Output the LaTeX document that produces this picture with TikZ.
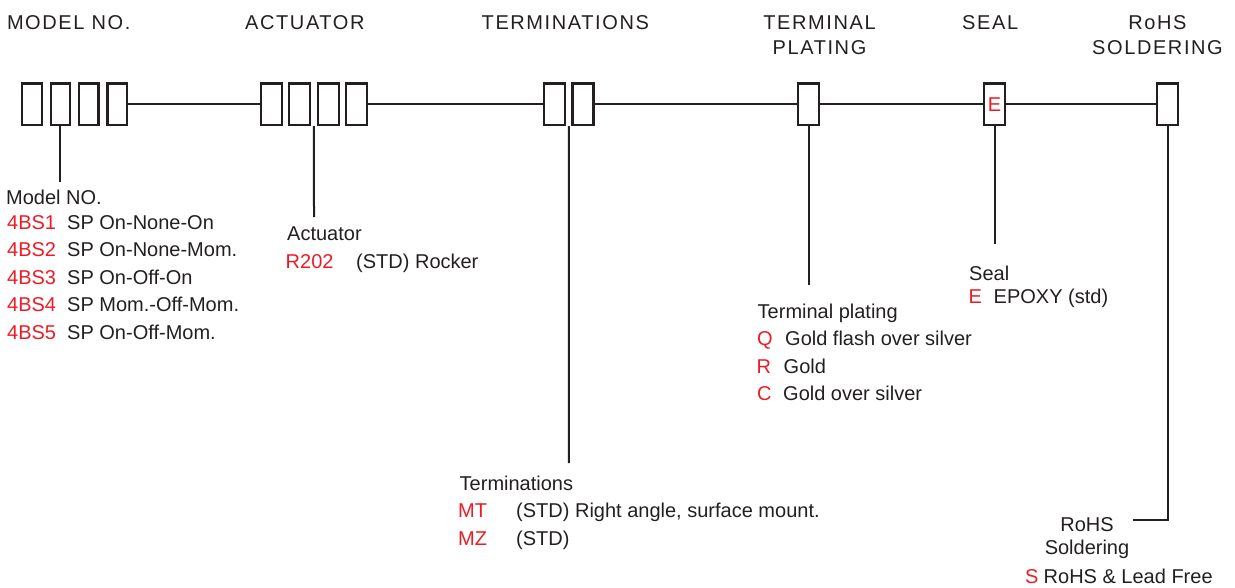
\documentclass[tikz,border=0pt]{standalone}
\usepackage{fontspec}
\setmainfont{Liberation Sans}
\newfontfamily\titlefont[LetterSpace=8]{Liberation Sans}
\usetikzlibrary{calc}

\definecolor{ink}{HTML}{231F20}
\definecolor{codered}{HTML}{ED1C24}

\tikzset{
  wire/.style={line width=2pt, draw=ink},
  digit/.style={draw=ink, line width=2.2pt, minimum width=21pt, minimum height=41.5pt, inner sep=0pt},
  heading/.style={inner sep=0pt, text=ink, font={\titlefont\fontsize{20}{24}\selectfont}},
  item/.style={anchor=base west, inner sep=0pt, text=ink, font={\fontsize{20}{24}\selectfont}},
  code/.style={item, text=codered},
}

\begin{document}
\begin{tikzpicture}[x=1pt,y=-1pt]

\useasboundingbox (0,0) rectangle (1235,587);
%\draw[step=50pt,gray,very thin] (0,0) grid (1235,587); %background grid

% headings
\node[heading,anchor=base west] (hmodel) at (6.8,29.3) {MODEL NO.};
\node[heading,anchor=base west] (hact) at (245,29.3) {ACTUATOR};
\node[heading,anchor=base west] (hterm) at (481.5,29.3) {TERMINATIONS};
\node[heading,anchor=base] (htp1) at (819.5,29.3) {TERMINAL};
\node[heading,anchor=base] (htp2) at (819.5,54) {PLATING};
\node[heading,anchor=base west] (hseal) at (962,29.3) {SEAL};
\node[heading,anchor=base] (hrohs1) at (1157.5,29.3) {RoHS};
\node[heading,anchor=base] (hrohs2) at (1157.5,54) {SOLDERING};

% code boxes
\foreach \i in {1,...,4}
  \node[digit,minimum width=19.5pt] (m\i) at ({32+28.4*(\i-1)},104.2) {};
\foreach \i in {1,...,4}
  \node[digit] (a\i) at ({271.3+28.45*(\i-1)},104.2) {};
\node[digit] (t1) at (554.5,104.2) {};
\node[digit] (t2) at (583,104.2) {};
\node[digit] (p1) at (808.5,104.2) {};
\node[digit,text=codered,font={\fontsize{20}{24}\selectfont}] (s1) at (994.5,104.2) {E};
\node[digit] (r1) at (1167.7,104.2) {};

\draw[wire] (m4.east) -- (a1.west);
\draw[wire] (a4.east) -- (t1.west);
\draw[wire] (t2.east) -- (p1.west);
\draw[wire] (p1.east) -- (s1.west);
\draw[wire] (s1.east) -- (r1.west);

% drop lines
\coordinate (mdrop) at (60.4,182);
\coordinate (adrop) at (314,217);
\coordinate (tdrop) at (568.8,463);
\coordinate (pdrop) at (808.5,285);
\coordinate (sdrop) at (994.5,244);
\coordinate (rdrop) at (1133,520);

\draw[wire] (m2.south) -- (mdrop);
\draw[wire] ($(a2.south)!0.5!(a3.south)$) -- (adrop);
\draw[wire] ($(t1.south)!0.5!(t2.south)$) -- (tdrop);
\draw[wire] (p1.south) -- (pdrop);
\draw[wire] (s1.south) -- (sdrop);
\draw[wire] (r1.south) |- (rdrop);

% model no.
\node[item] (lmodel) at (6,204) {Model NO.};
\node[code] (bs1) at (7,229) {4BS1};
\node[item] (bs1d) at (67,229) {SP On-None-On};
\node[code] (bs2) at (7,256.5) {4BS2};
\node[item] (bs2d) at (67,256.5) {SP On-None-Mom.};
\node[code] (bs3) at (7,284) {4BS3};
\node[item] (bs3d) at (67,284) {SP On-Off-On};
\node[code] (bs4) at (7,311.5) {4BS4};
\node[item] (bs4d) at (67,311.5) {SP Mom.-Off-Mom.};
\node[code] (bs5) at (7,339) {4BS5};
\node[item] (bs5d) at (67,339) {SP On-Off-Mom.};

% actuator
\node[item] (lact) at (287,240) {Actuator};
\node[code] (r202) at (285.5,268) {R202};
\node[item] (r202d) at (356,268) {(STD) Rocker};

% terminations
\node[item] (lterm) at (459.5,490) {Terminations};
\node[code] (mt) at (458,517) {MT};
\node[item] (mtd) at (516,517) {(STD) Right angle, surface mount.};
\node[code] (mz) at (458,545) {MZ};
\node[item] (mzd) at (516,545) {(STD)};

% terminal plating
\node[item] (ltp) at (757.5,318) {Terminal plating};
\node[code] (pq) at (757,345) {Q};
\node[item] (pqd) at (785,345) {Gold flash over silver};
\node[code] (pr) at (756.5,373) {R};
\node[item] (prd) at (783.5,373) {Gold};
\node[code] (pc) at (757,400) {C};
\node[item] (pcd) at (783,400) {Gold over silver};

% seal
\node[item] (lseal) at (969,280) {Seal};
\node[code] (se) at (968.5,303) {E};
\node[item] (sed) at (993.5,303) {EPOXY (std)};

% rohs soldering
\node[item,anchor=base] (lrohs1) at (1087,531) {RoHS};
\node[item,anchor=base] (lrohs2) at (1087,554) {Soldering};
\node[code] (rs) at (1025,583) {S};
\node[item] (rsd) at (1043.5,583) {RoHS \& Lead Free};

\end{tikzpicture}
\end{document}
